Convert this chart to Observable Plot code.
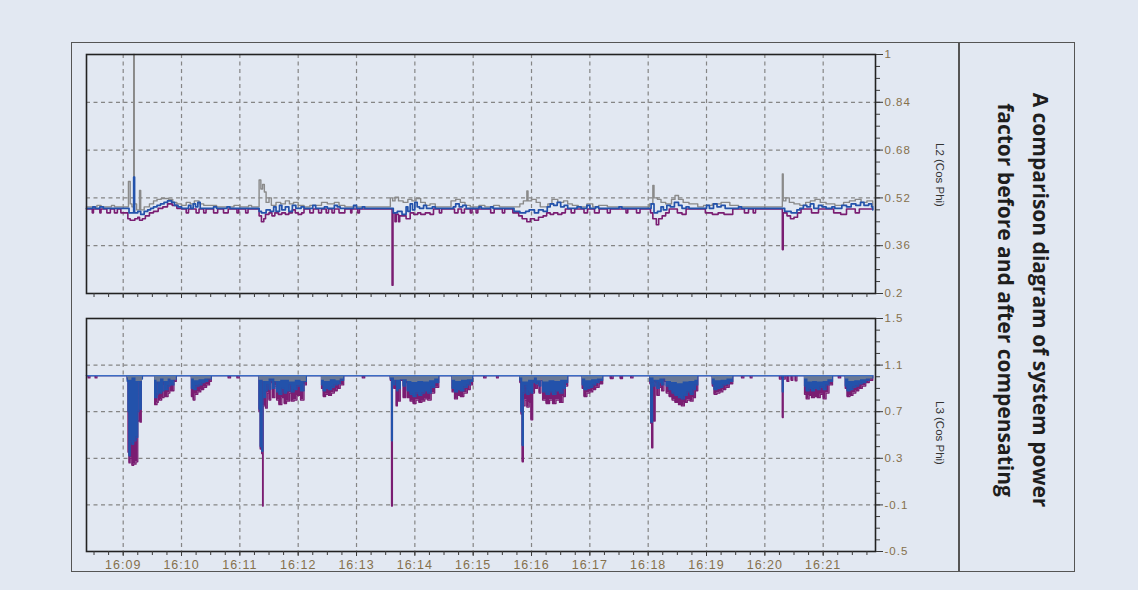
<!DOCTYPE html>
<html><head><meta charset="utf-8">
<script src="https://cdn.jsdelivr.net/npm/d3@7"></script>
<script src="https://cdn.jsdelivr.net/npm/@observablehq/plot@0.6"></script>
<style>
html,body{margin:0;padding:0;background:#e2e8f2;}
#page{position:relative;width:1138px;height:590px;background:#e2e8f2;overflow:hidden;font-family:"Liberation Sans",Arial,sans-serif;}
#box{position:absolute;left:71px;top:42px;width:1004px;height:530px;border:1.5px solid #555;box-sizing:border-box;}
#divider{position:absolute;left:958px;top:42px;width:1.5px;height:530px;background:#555;}
.panel{position:absolute;left:0;}
.panel svg text{letter-spacing:1px;}
.ylab{position:absolute;font-size:11.5px;color:#333;white-space:nowrap;transform:translate(-50%,-50%) rotate(90deg);}
#title{position:absolute;left:1023px;top:300px;transform:translate(-50%,-50%) rotate(90deg);font-family:"Open Sans",sans-serif;font-weight:700;font-size:21px;line-height:35px;color:#1e1e1e;text-align:center;white-space:nowrap;}
</style>
</head><body>
<div id="page">
  <div id="box"></div>
  <div id="divider"></div>
  <div id="p1" class="panel" style="top:0px"></div>
  <div id="p2" class="panel" style="top:300px"></div>
  <div class="ylab" style="left:940px;top:175px">L2 (Cos Phi)</div>
  <div class="ylab" style="left:940px;top:433px">L3 (Cos Phi)</div>
  <div id="title">A comparison diagram of system power<br>factor before and after compensating</div>
</div>
<script>
// ---- time axis: minutes after 16:00 ----
const minuteTicks = [9, 10, 11, 12, 13, 14, 15, 16, 17, 18, 19, 20, 21];
const minuteLabel = m => `16:${String(m).padStart(2, "0")}`;

// ---- L2 panel ticks ----
const l2Ticks = [0.2, 0.36, 0.52, 0.68, 0.84, 1];
const l2Grid = [0.36, 0.52, 0.68, 0.84];
// ---- L3 panel ticks ----
const l3Ticks = [-0.5, -0.1, 0.3, 0.7, 1.1, 1.5];
const l3Grid = [-0.1, 0.3, 0.7, 1.1];

// ---- L2 (Cos Phi) series: [minute, value] ----
const l2Gray = [
[8.37,0.49],[8.55,0.495],[8.62,0.49],[8.80,0.495],[8.85,0.49],
[9.06,0.49],[9.09,0.575],[9.12,0.50],[9.15,0.49],[9.18,1.0],[9.19,0.50],[9.23,0.48],[9.28,0.545],[9.30,0.48],[9.36,0.49],[9.45,0.50],[9.52,0.51],[9.58,0.515],[9.65,0.518],[9.78,0.515],[9.85,0.505],[9.92,0.50],[10.00,0.495],[10.08,0.505],[10.15,0.50],[10.22,0.51],[10.30,0.50],[10.38,0.495],
[10.50,0.495],[10.60,0.49],[10.90,0.495],[11.00,0.49],[11.15,0.495],[11.20,0.49],
[11.33,0.58],[11.36,0.55],[11.39,0.565],[11.42,0.54],[11.45,0.505],[11.50,0.52],[11.54,0.495],[11.62,0.505],[11.70,0.50],[11.78,0.51],[11.85,0.50],[11.92,0.505],[12.00,0.495],[12.10,0.49],[12.20,0.495],[12.40,0.505],[12.50,0.50],[12.62,0.505],[12.70,0.495],[12.80,0.49],
[13.58,0.52],[13.62,0.51],[13.66,0.522],[13.72,0.51],[13.80,0.505],[13.88,0.515],[13.95,0.51],[14.02,0.518],[14.10,0.505],[14.18,0.495],[14.26,0.50],[14.35,0.49],
[14.62,0.51],[14.70,0.515],[14.78,0.505],[14.86,0.495],[14.95,0.49],[15.10,0.495],[15.20,0.49],[15.35,0.495],[15.45,0.49],
[15.80,0.50],[15.86,0.51],[15.92,0.543],[15.94,0.51],[16.00,0.515],[16.08,0.505],[16.15,0.49],
[16.28,0.50],[16.35,0.515],[16.45,0.505],[16.55,0.51],[16.62,0.50],[16.70,0.495],[16.80,0.49],[16.95,0.50],[17.05,0.49],[17.15,0.495],[17.30,0.49],
[18.02,0.50],[18.08,0.562],[18.10,0.52],[18.16,0.515],[18.22,0.505],[18.30,0.50],[18.40,0.515],[18.46,0.528],[18.52,0.515],[18.60,0.505],[18.70,0.50],[18.85,0.49],[18.95,0.495],[19.10,0.50],[19.25,0.505],[19.40,0.495],[19.55,0.49],
[20.28,0.49],[20.30,0.60],[20.315,0.51],[20.36,0.52],[20.42,0.505],[20.50,0.50],[20.60,0.495],[20.70,0.505],[20.78,0.51],[20.86,0.515],[20.95,0.505],[21.05,0.50],[21.20,0.495],[21.35,0.505],[21.45,0.51],[21.55,0.515],[21.65,0.505],[21.75,0.51],[21.85,0.49]
];
const l2Purple = [
[8.37,0.483],[8.47,0.47],[8.49,0.483],[8.60,0.47],[8.62,0.483],[8.72,0.47],[8.78,0.483],[8.85,0.47],[8.90,0.483],[8.96,0.47],[9.05,0.47],
[9.08,0.45],[9.12,0.445],[9.20,0.45],[9.25,0.455],[9.28,0.445],[9.33,0.45],[9.38,0.46],[9.45,0.47],[9.52,0.475],[9.60,0.485],[9.68,0.49],[9.76,0.50],[9.84,0.495],[9.92,0.485],[10.00,0.483],
[10.08,0.47],[10.12,0.483],[10.25,0.47],[10.30,0.483],[10.38,0.47],[10.42,0.483],[10.55,0.47],[10.62,0.483],[10.72,0.47],[10.80,0.483],[10.95,0.47],[10.98,0.483],[11.10,0.47],[11.14,0.483],
[11.33,0.46],[11.37,0.44],[11.41,0.45],[11.44,0.465],[11.50,0.47],[11.55,0.46],[11.60,0.47],[11.66,0.465],[11.72,0.47],[11.78,0.465],[11.84,0.47],[11.90,0.48],[11.95,0.47],[12.00,0.465],[12.06,0.47],[12.10,0.483],[12.20,0.47],[12.26,0.483],[12.35,0.47],[12.40,0.483],[12.48,0.47],[12.52,0.483],[12.58,0.47],[12.62,0.483],[12.70,0.47],[12.76,0.47],[12.80,0.483],
[12.90,0.47],[12.92,0.483],[13.02,0.47],[13.05,0.483],
[13.59,0.483],[13.61,0.228],[13.625,0.47],[13.66,0.44],[13.68,0.465],[13.72,0.44],[13.74,0.46],[13.78,0.46],[13.85,0.45],[13.92,0.47],[13.98,0.465],[14.05,0.47],[14.10,0.465],[14.18,0.47],[14.26,0.465],[14.32,0.483],
[14.42,0.47],[14.46,0.483],[14.68,0.47],[14.74,0.483],[14.80,0.47],[14.85,0.483],[14.95,0.47],[14.98,0.483],[15.05,0.47],[15.08,0.483],[15.30,0.47],[15.36,0.483],[15.50,0.47],[15.54,0.483],
[15.68,0.47],[15.78,0.46],[15.84,0.45],[15.92,0.44],[15.98,0.45],[16.05,0.445],[16.12,0.455],[16.20,0.46],[16.26,0.47],[16.32,0.465],[16.38,0.47],[16.45,0.465],[16.52,0.47],[16.58,0.483],
[16.68,0.47],[16.74,0.483],[16.90,0.47],[16.96,0.483],[17.08,0.47],[17.16,0.483],[17.30,0.47],[17.35,0.483],
[17.62,0.47],[17.65,0.483],[17.80,0.47],[17.86,0.483],
[18.04,0.47],[18.08,0.45],[18.14,0.43],[18.18,0.45],[18.24,0.46],[18.30,0.47],[18.36,0.483],[18.50,0.47],[18.58,0.465],[18.65,0.483],[18.98,0.47],[19.10,0.465],[19.20,0.47],[19.30,0.465],[19.45,0.483],[19.65,0.47],[19.72,0.483],[19.80,0.47],[19.84,0.483],
[20.29,0.483],[20.30,0.347],[20.315,0.47],[20.38,0.46],[20.44,0.45],[20.50,0.455],[20.56,0.47],[20.62,0.483],[20.80,0.47],[20.92,0.483],[21.18,0.47],[21.30,0.465],[21.40,0.483],[21.55,0.47],[21.62,0.483],[21.85,0.483]
];
const l2Blue = [
[8.37,0.485],[8.48,0.49],[8.52,0.485],[8.60,0.49],[8.66,0.485],
[9.08,0.485],[9.10,0.47],[9.18,0.59],[9.195,0.47],[9.25,0.475],[9.30,0.465],[9.36,0.475],[9.42,0.48],[9.47,0.485],[9.52,0.49],[9.58,0.495],[9.64,0.50],[9.70,0.505],[9.76,0.51],[9.83,0.505],[9.88,0.495],[9.94,0.49],[10.00,0.485],
[10.12,0.495],[10.16,0.485],[10.20,0.50],[10.24,0.49],[10.28,0.505],[10.32,0.485],
[10.55,0.49],[10.60,0.485],[10.78,0.49],[10.83,0.485],
[11.30,0.485],[11.33,0.475],[11.37,0.47],[11.45,0.48],[11.52,0.475],[11.58,0.49],[11.62,0.475],[11.68,0.495],[11.72,0.48],[11.78,0.49],[11.84,0.475],[11.90,0.495],[11.96,0.485],[12.05,0.49],[12.10,0.485],[12.25,0.495],[12.30,0.485],
[12.45,0.49],[12.50,0.485],[12.62,0.495],[12.67,0.49],[12.72,0.485],
[12.95,0.495],[13.00,0.485],[13.10,0.49],[13.14,0.485],
[13.58,0.485],[13.63,0.47],[13.70,0.475],[13.78,0.465],[13.85,0.49],[13.88,0.475],[13.92,0.50],[13.96,0.48],[14.00,0.505],[14.04,0.49],[14.08,0.485],[14.15,0.495],[14.20,0.485],[14.30,0.49],[14.35,0.485],
[14.66,0.49],[14.70,0.50],[14.76,0.49],[14.82,0.495],[14.88,0.485],
[15.10,0.49],[15.14,0.485],[15.30,0.49],[15.34,0.485],
[15.65,0.485],[15.70,0.475],[15.80,0.47],[15.90,0.475],[15.96,0.48],[16.05,0.47],[16.12,0.48],[16.20,0.475],[16.27,0.49],[16.32,0.50],[16.38,0.495],[16.44,0.505],[16.50,0.49],[16.56,0.495],[16.62,0.485],
[16.78,0.49],[16.85,0.485],[16.95,0.495],[17.00,0.485],[17.10,0.49],[17.15,0.485],
[17.50,0.49],[17.55,0.485],
[18.02,0.485],[18.05,0.50],[18.10,0.47],[18.16,0.475],[18.22,0.49],[18.26,0.48],[18.32,0.495],[18.38,0.49],[18.45,0.505],[18.52,0.495],[18.58,0.485],[18.65,0.49],[18.70,0.485],
[19.00,0.495],[19.05,0.485],[19.12,0.50],[19.18,0.49],[19.25,0.495],[19.32,0.485],
[19.55,0.49],[19.60,0.485],
[20.30,0.485],[20.34,0.475],[20.45,0.47],[20.55,0.48],[20.60,0.485],[20.66,0.495],[20.72,0.49],[20.78,0.50],[20.84,0.485],[20.92,0.495],[20.98,0.49],[21.05,0.485],[21.15,0.49],[21.20,0.485],[21.32,0.495],[21.40,0.49],[21.48,0.50],[21.56,0.495],[21.64,0.505],[21.70,0.495],[21.78,0.50],[21.83,0.49],[21.85,0.48]
];

// ---- L3 (Cos Phi) series: [minute, value] ----
const l3Gray = [
[8.37,1.01],
[9.07,0.99],[9.09,0.97],[9.15,0.99],[9.22,0.96],[9.33,1.01],
[9.54,0.97],[9.58,0.955],[9.64,0.98],[9.70,0.96],[9.77,0.98],[9.82,0.97],[9.91,1.01],
[10.17,0.98],[10.22,0.965],[10.30,0.975],[10.40,0.98],[10.51,1.01],
[11.33,0.97],[11.40,0.96],[11.50,0.98],[11.60,0.96],[11.70,0.97],[11.85,0.955],[11.95,0.97],[12.05,0.96],[12.14,1.01],
[12.40,0.97],[12.45,0.96],[12.55,0.975],[12.65,0.965],[12.72,0.98],[12.78,1.01],
[13.58,0.99],[13.65,0.97],[13.75,0.975],[13.87,0.96],[13.95,0.95],[14.05,0.96],[14.15,0.955],[14.25,0.965],[14.34,0.98],[14.41,1.01],
[14.64,0.97],[14.70,0.96],[14.80,0.97],[14.90,0.975],[14.99,1.01],
[15.80,0.99],[15.85,0.955],[15.95,0.97],[16.05,0.99],[16.10,0.965],[16.20,0.955],[16.30,0.965],[16.40,0.96],[16.50,0.97],[16.62,1.01],
[16.87,0.98],[16.93,0.965],[17.03,0.975],[17.13,0.98],[17.22,1.01],
[18.03,0.99],[18.10,0.97],[18.20,0.98],[18.30,0.96],[18.40,0.95],[18.50,0.94],[18.60,0.955],[18.70,0.96],[18.80,0.97],[18.85,1.01],
[19.10,0.98],[19.15,0.965],[19.25,0.97],[19.35,0.98],[19.45,1.01],
[20.68,0.98],[20.74,0.955],[20.82,0.96],[20.90,0.955],[21.00,0.96],[21.08,0.975],[21.16,1.01],
[21.38,0.98],[21.44,0.96],[21.54,0.965],[21.64,0.975],[21.74,0.98],[21.85,1.01]
];
const l3Purple = [
[8.37,1.01],[8.40,0.99],[8.43,1.01],[8.52,0.99],[8.55,1.01],
[9.07,0.98],[9.085,0.35],[9.10,0.26],[9.12,0.30],[9.15,0.24],[9.18,0.25],[9.22,0.27],[9.25,0.62],[9.27,0.97],[9.29,0.61],[9.31,1.0],[9.33,1.01],
[9.54,0.76],[9.58,0.78],[9.60,0.93],[9.62,0.80],[9.66,0.82],[9.70,0.92],[9.72,0.83],[9.77,0.86],[9.80,0.95],[9.82,0.88],[9.87,0.96],[9.91,1.01],
[10.17,0.83],[10.20,0.80],[10.23,0.85],[10.28,0.87],[10.33,0.89],[10.38,0.91],[10.43,0.93],[10.48,0.96],[10.51,1.01],
[10.80,0.99],[10.84,1.01],[10.95,0.99],[10.99,1.01],
[11.33,0.70],[11.35,0.38],[11.375,0.34],[11.39,-0.11],[11.40,0.75],[11.44,0.73],[11.47,0.86],[11.50,0.80],[11.53,0.95],[11.56,0.82],[11.60,0.92],[11.63,0.80],[11.67,0.76],[11.72,0.82],[11.76,0.77],[11.80,0.79],[11.85,0.86],[11.88,0.79],[11.93,0.80],[11.98,0.84],[12.04,0.80],[12.10,0.93],[12.14,1.01],
[12.40,0.90],[12.43,0.83],[12.47,0.85],[12.52,0.84],[12.57,0.86],[12.62,0.88],[12.67,0.90],[12.72,0.93],[12.78,1.01],
[13.10,0.99],[13.14,1.01],
[13.58,0.97],[13.60,-0.11],[13.615,1.0],[13.64,0.90],[13.66,0.97],[13.68,0.75],[13.70,0.98],[13.72,0.79],[13.75,0.97],[13.80,0.82],[13.84,0.95],[13.87,0.82],[13.92,0.79],[13.97,0.77],[14.02,0.80],[14.07,0.78],[14.12,0.79],[14.17,0.81],[14.22,0.80],[14.28,0.86],[14.34,0.91],[14.41,1.01],
[14.64,0.87],[14.68,0.81],[14.73,0.84],[14.78,0.83],[14.84,0.86],[14.90,0.89],[14.95,0.93],[14.99,1.01],
[15.18,0.99],[15.22,1.01],[15.40,0.99],[15.43,1.01],
[15.80,0.95],[15.82,0.68],[15.84,0.27],[15.86,0.75],[15.89,0.80],[15.92,0.74],[15.96,0.78],[15.99,0.63],[16.02,0.86],[16.05,0.98],[16.07,0.90],[16.10,0.93],[16.13,0.86],[16.16,0.97],[16.19,0.80],[16.25,0.77],[16.31,0.80],[16.36,0.77],[16.42,0.80],[16.48,0.78],[16.54,0.83],[16.58,0.92],[16.62,1.01],
[16.87,0.90],[16.90,0.83],[16.95,0.86],[17.00,0.87],[17.05,0.89],[17.10,0.91],[17.16,0.94],[17.22,1.01],
[17.35,0.985],[17.40,1.01],[17.52,0.985],[17.56,1.01],[17.70,0.99],[17.74,1.01],
[18.03,0.94],[18.045,0.60],[18.06,0.39],[18.08,0.93],[18.10,0.62],[18.12,0.95],[18.15,0.84],[18.19,0.91],[18.23,0.88],[18.27,0.96],[18.31,0.86],[18.36,0.83],[18.41,0.80],[18.46,0.78],[18.52,0.76],[18.57,0.75],[18.62,0.78],[18.67,0.80],[18.72,0.79],[18.77,0.82],[18.81,0.88],[18.85,1.01],
[19.10,0.92],[19.13,0.85],[19.18,0.86],[19.23,0.87],[19.28,0.89],[19.33,0.91],[19.39,0.94],[19.45,1.01],
[19.60,0.99],[19.64,1.01],[19.75,0.99],[19.78,1.01],
[20.25,0.98],[20.28,1.01],[20.30,0.65],[20.315,0.98],[20.35,1.01],[20.38,0.96],[20.41,1.01],[20.45,0.97],[20.48,1.01],[20.52,0.965],[20.55,1.01],
[20.68,0.85],[20.71,0.81],[20.76,0.84],[20.80,0.82],[20.85,0.83],[20.90,0.82],[20.95,0.85],[21.00,0.81],[21.05,0.86],[21.10,0.93],[21.16,1.01],
[21.26,0.99],[21.30,1.01],
[21.38,0.90],[21.41,0.83],[21.46,0.84],[21.51,0.86],[21.56,0.88],[21.61,0.90],[21.67,0.92],[21.73,0.95],[21.79,0.97],[21.85,1.01]
];
const l3Blue = [
[8.37,1.01],
[9.07,0.96],[9.085,0.70],[9.10,0.32],[9.12,0.45],[9.15,0.42],[9.18,0.45],[9.22,0.48],[9.25,0.70],[9.27,0.95],[9.29,0.72],[9.31,0.98],[9.33,1.01],
[9.54,0.82],[9.58,0.85],[9.60,0.96],[9.62,0.86],[9.66,0.88],[9.70,0.95],[9.72,0.89],[9.77,0.92],[9.80,0.97],[9.82,0.93],[9.87,0.98],[9.91,1.01],
[10.17,0.90],[10.21,0.89],[10.25,0.92],[10.30,0.93],[10.35,0.95],[10.40,0.96],[10.45,0.98],[10.51,1.01],
[11.33,0.72],[11.35,0.40],[11.375,0.36],[11.395,1.0],[11.41,0.82],[11.44,0.88],[11.47,0.93],[11.50,0.89],[11.53,0.97],[11.56,0.90],[11.60,0.96],[11.63,0.87],[11.67,0.85],[11.72,0.90],[11.76,0.86],[11.80,0.88],[11.85,0.93],[11.88,0.87],[11.93,0.89],[11.98,0.92],[12.04,0.88],[12.10,0.96],[12.14,1.01],
[12.40,0.93],[12.43,0.88],[12.47,0.90],[12.52,0.89],[12.57,0.91],[12.62,0.93],[12.67,0.94],[12.72,0.97],[12.78,1.01],
[13.58,0.98],[13.60,0.45],[13.615,1.0],[13.64,0.93],[13.66,0.98],[13.69,0.88],[13.71,0.99],[13.73,0.90],[13.75,0.98],[13.80,0.92],[13.84,0.97],[13.87,0.88],[13.92,0.85],[13.97,0.83],[14.02,0.86],[14.07,0.84],[14.12,0.86],[14.17,0.88],[14.22,0.86],[14.28,0.91],[14.34,0.95],[14.41,1.01],
[14.64,0.90],[14.68,0.87],[14.73,0.89],[14.78,0.88],[14.84,0.91],[14.90,0.93],[14.95,0.96],[14.99,1.01],
[15.80,0.97],[15.82,0.70],[15.84,0.41],[15.86,0.86],[15.89,0.92],[15.92,0.85],[15.96,0.88],[15.99,0.86],[16.02,0.95],[16.05,1.0],[16.07,0.94],[16.10,0.96],[16.13,0.92],[16.16,0.99],[16.19,0.87],[16.25,0.85],[16.31,0.87],[16.36,0.85],[16.42,0.88],[16.48,0.86],[16.54,0.90],[16.58,0.95],[16.62,1.01],
[16.87,0.93],[16.90,0.89],[16.95,0.90],[17.00,0.91],[17.05,0.93],[17.10,0.95],[17.16,0.97],[17.22,1.01],
[18.03,0.96],[18.045,0.61],[18.075,0.95],[18.09,0.92],[18.12,0.97],[18.15,0.90],[18.19,0.95],[18.23,0.93],[18.27,0.98],[18.31,0.92],[18.36,0.89],[18.41,0.86],[18.46,0.84],[18.52,0.82],[18.57,0.81],[18.62,0.84],[18.67,0.87],[18.72,0.85],[18.77,0.89],[18.81,0.93],[18.85,1.01],
[19.10,0.94],[19.13,0.89],[19.18,0.90],[19.23,0.91],[19.28,0.93],[19.33,0.94],[19.39,0.96],[19.45,1.01],
[20.30,0.87],[20.315,1.01],
[20.68,0.92],[20.71,0.88],[20.76,0.90],[20.80,0.88],[20.85,0.90],[20.90,0.89],[20.95,0.91],[21.00,0.89],[21.05,0.93],[21.10,0.96],[21.16,1.01],
[21.38,0.92],[21.41,0.88],[21.46,0.89],[21.51,0.91],[21.56,0.92],[21.61,0.94],[21.67,0.95],[21.73,0.97],[21.79,0.99],[21.85,1.01]
];

// ---- styling ----
const GRAY = "#8a8a8a", PURPLE = "#7a1d72", BLUE = "#2352ab";
const LABEL = "#85704c", TICK = "#3a3a3a";
const gridStyle = {stroke: "#858585", strokeOpacity: 1, strokeWidth: 1.2, strokeDasharray: "4,3.5"};
const quarterTicks = d3.range(8.5, 21.9, 0.25);
const X = d => d[0], Y = d => d[1];

function panel({gray, purple, blue, base, yDomain, yTicks, yMinor, yGrid, height, marginTop, marginBottom, xLabels, areas}) {
  const marks = [
    Plot.gridX(minuteTicks, gridStyle),
    Plot.gridY(yGrid, gridStyle)
  ];
  if (areas) {
    marks.push(
      Plot.areaY(purple, {x: X, y1: () => base, y2: Y, curve: "step-after", fill: PURPLE}),
      Plot.line(purple, {x: X, y: Y, curve: "step-after", stroke: PURPLE, strokeWidth: 1.3}),
      Plot.areaY(blue, {x: X, y1: () => base, y2: Y, curve: "step-after", fill: BLUE}),
      Plot.line(blue, {x: X, y: Y, curve: "step-after", stroke: BLUE, strokeWidth: 1.3}),
      Plot.areaY(gray, {x: X, y1: () => base, y2: Y, curve: "step-after", fill: GRAY, fillOpacity: 0.7}),
      Plot.line(blue.filter(d => d[1] >= base - 0.001), {x: X, y: () => base, stroke: "#3b6cc4", strokeWidth: 1.2})
    );
  } else {
    marks.push(
      Plot.line(gray, {x: X, y: Y, curve: "step-after", stroke: GRAY, strokeWidth: 1.4}),
      Plot.line(purple, {x: X, y: Y, curve: "step-after", stroke: PURPLE, strokeWidth: 1.6}),
      Plot.line(blue, {x: X, y: Y, curve: "step-after", stroke: BLUE, strokeWidth: 1.7})
    );
  }
  marks.push(
    Plot.frame({stroke: "#222", strokeWidth: 1.6}),
    Plot.axisY(yMinor, {anchor: "right", tickSize: 4, tickFormat: () => "", stroke: TICK, label: null}),
    Plot.axisY(yTicks, {anchor: "right", tickSize: 7, tickPadding: 2, tickFormat: d => String(d), stroke: TICK, fill: LABEL, fontSize: 11.5, label: null}),
    Plot.axisX(quarterTicks, {anchor: "bottom", tickSize: 4, tickFormat: () => "", stroke: TICK, label: null}),
    Plot.axisX(minuteTicks, {anchor: "bottom", tickSize: 5, tickPadding: 4, tickFormat: xLabels ? minuteLabel : () => "", stroke: TICK, fill: LABEL, fontSize: 12.5, label: null})
  );
  return Plot.plot({
    width: 960, height, marginLeft: 86, marginRight: 85, marginTop, marginBottom,
    style: {background: "transparent", fontFamily: "'Liberation Sans', Arial, sans-serif", overflow: "visible"},
    x: {domain: [8.371, 21.897], label: null},
    y: {domain: yDomain, label: null},
    marks
  });
}

document.getElementById("p1").append(panel({
  gray: l2Gray, purple: l2Purple, blue: l2Blue, base: 0.485,
  yDomain: [0.2, 1], yTicks: l2Ticks, yMinor: d3.range(0.2, 1.0001, 0.04), yGrid: l2Grid,
  height: 300, marginTop: 54, marginBottom: 7, xLabels: false, areas: false
}));
document.getElementById("p2").append(panel({
  gray: l3Gray, purple: l3Purple, blue: l3Blue, base: 1.01,
  yDomain: [-0.5, 1.5], yTicks: l3Ticks, yMinor: d3.range(-0.5, 1.5001, 0.1), yGrid: l3Grid,
  height: 290, marginTop: 18, marginBottom: 39, xLabels: true, areas: true
}));
</script>
</body></html>
